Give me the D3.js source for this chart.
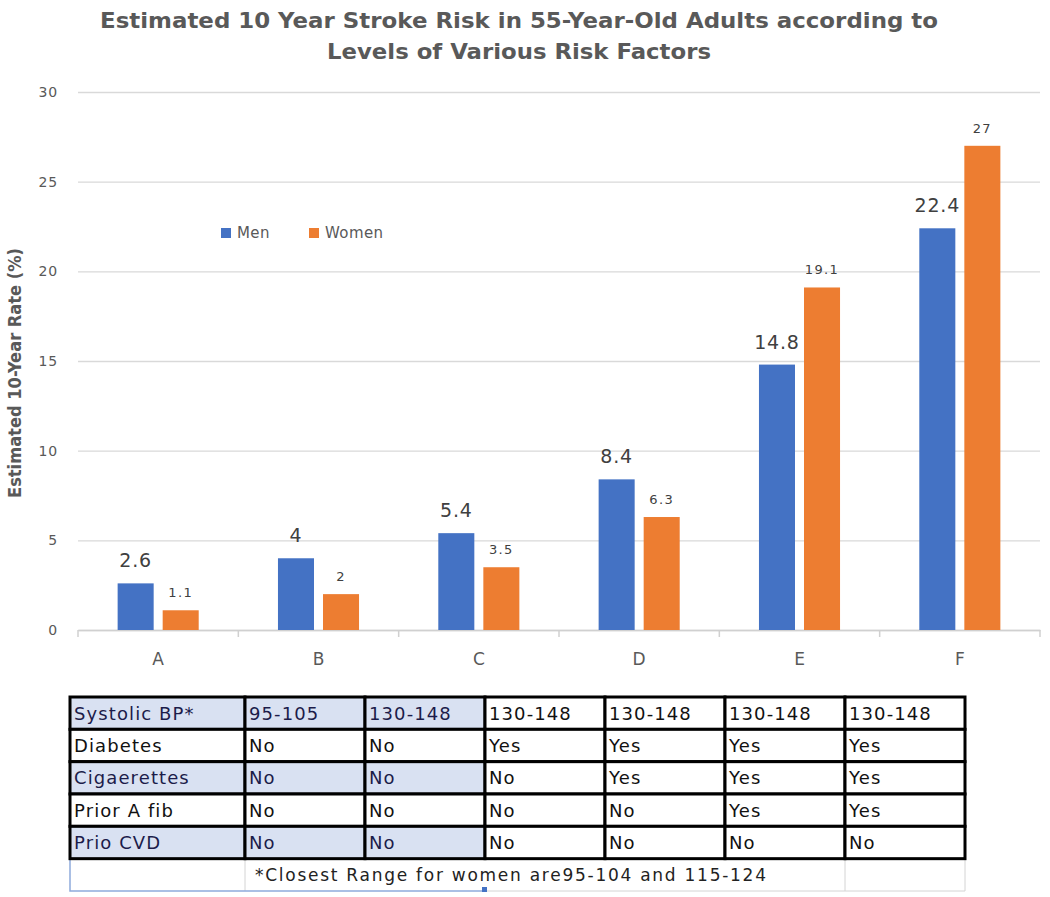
<!DOCTYPE html>
<html>
<head>
<meta charset="utf-8">
<script src="https://cdn.jsdelivr.net/npm/d3@7"></script>
<style>
  html, body { margin: 0; padding: 0; background: #fff; }
  svg { display: block; }
</style>
</head>
<body>
<svg id="chart" width="1050" height="897"></svg>
<script>
// ---------- DATA ----------
const categories = ["A", "B", "C", "D", "E", "F"];
const seriesNames = ["Men", "Women"];
const menValues = [2.6, 4, 5.4, 8.4, 14.8, 22.4];
const womenValues = [1.1, 2, 3.5, 6.3, 19.1, 27];
const yTickValues = [0, 5, 10, 15, 20, 25, 30];

const titleLines = [
  "Estimated 10 Year Stroke Risk in 55-Year-Old Adults according to",
  "Levels of Various Risk Factors"
];
const yAxisTitle = "Estimated 10-Year Rate (%)";

const rowLabels = ["Systolic BP*", "Diabetes", "Cigaerettes", "Prior A fib", "Prio CVD"];
const systolicBP = ["95-105", "130-148", "130-148", "130-148", "130-148", "130-148"];
const diabetes = ["No", "No", "Yes", "Yes", "Yes", "Yes"];
const cigarettes = ["No", "No", "No", "Yes", "Yes", "Yes"];
const priorAfib = ["No", "No", "No", "No", "Yes", "Yes"];
const priorCVD = ["No", "No", "No", "No", "No", "No"];
const footnote = "*Closest Range for women are95-104 and 115-124";

// ---------- LAYOUT / STYLE ----------
const colors = { Men: "#4472C4", Women: "#ED7D31" };
const textGrey = "#595959";
const labelGrey = "#404040";
const plot = { left: 78, right: 1040, top: 92, bottom: 630 };

const svg = d3.select("#chart");

// Title
svg.append("g").selectAll("text")
  .data(titleLines)
  .join("text")
  .attr("x", 519)
  .attr("y", (d, i) => 28 + i * 31)
  .attr("text-anchor", "middle")
  .attr("font-family", "'DejaVu Sans', sans-serif")
  .attr("font-weight", "bold")
  .attr("font-size", 22)
  .attr("fill", textGrey)
  .attr("textLength", (d, i) => i === 0 ? 838 : 384)
  .attr("lengthAdjust", "spacingAndGlyphs")
  .text(d => d);

// Scales
const x0 = d3.scaleBand().domain(categories).range([plot.left, plot.right]).paddingInner(0).paddingOuter(0);
const x1 = d3.scaleBand().domain(seriesNames).range([0, x0.bandwidth()]).paddingInner(0.2).paddingOuter(0.88);
const y = d3.scaleLinear().domain([0, 30]).range([plot.bottom, plot.top]);

// Gridlines + y tick labels
const yAxis = d3.axisLeft(y).tickValues(yTickValues).tickSize(-(plot.right - plot.left)).tickPadding(20);
const gy = svg.append("g").attr("transform", `translate(${plot.left},0)`).call(yAxis);
gy.select(".domain").remove();
gy.selectAll(".tick line").attr("stroke", "#d9d9d9").attr("stroke-width", 1.3);
gy.selectAll(".tick text")
  .attr("fill", textGrey)
  .attr("font-family", "'DejaVu Sans', sans-serif")
  .attr("font-size", 14)
  .attr("letter-spacing", 0.8);

// Y axis title
svg.append("text")
  .attr("transform", "translate(21,373) rotate(-90)")
  .attr("text-anchor", "middle")
  .attr("font-family", "'DejaVu Sans Condensed', 'DejaVu Sans', sans-serif")
  .attr("font-weight", "bold")
  .attr("font-size", 18)
  .attr("fill", textGrey)
  .attr("textLength", 250)
  .attr("lengthAdjust", "spacingAndGlyphs")
  .text(yAxisTitle);

// X axis
const xAxis = d3.axisBottom(x0).tickSize(0).tickPadding(23);
const gx = svg.append("g").attr("transform", `translate(0,${plot.bottom})`).call(xAxis);
gx.select(".domain").attr("stroke", "#d0d0d0").attr("stroke-width", 1.5);
gx.selectAll(".tick text")
  .attr("fill", textGrey)
  .attr("font-family", "'DejaVu Sans', sans-serif")
  .attr("font-size", 17);
// category boundary ticks
const boundaries = categories.map(c => x0(c)).concat([x0(categories[categories.length - 1]) + x0.bandwidth()]);
svg.append("g").selectAll("line")
  .data(boundaries)
  .join("line")
  .attr("x1", d => d).attr("x2", d => d)
  .attr("y1", plot.bottom).attr("y2", plot.bottom + 7)
  .attr("stroke", "#d0d0d0").attr("stroke-width", 1.5);

// Bars
const rows = categories.map((c, i) => ({ cat: c, Men: menValues[i], Women: womenValues[i] }));
const groups = svg.append("g").selectAll("g")
  .data(rows)
  .join("g")
  .attr("transform", d => `translate(${x0(d.cat)},0)`);

groups.selectAll("rect")
  .data(d => seriesNames.map(s => ({ s, v: d[s] })))
  .join("rect")
  .attr("x", d => x1(d.s))
  .attr("width", x1.bandwidth())
  .attr("y", d => y(d.v))
  .attr("height", d => y(0) - y(d.v))
  .attr("fill", d => colors[d.s]);

groups.selectAll("text")
  .data(d => seriesNames.map(s => ({ s, v: d[s] })))
  .join("text")
  .attr("x", d => x1(d.s) + x1.bandwidth() / 2)
  .attr("y", d => y(d.v) - (d.s === "Men" ? 16 : 13))
  .attr("text-anchor", "middle")
  .attr("font-family", "'DejaVu Sans', sans-serif")
  .attr("font-size", d => d.s === "Men" ? 19 : 13)
  .attr("letter-spacing", d => d.s === "Men" ? 0.8 : 1.4)
  .attr("fill", labelGrey)
  .text(d => d.v);

// Legend
const legend = svg.append("g").attr("transform", "translate(221,228)");
const legendItems = legend.selectAll("g")
  .data(seriesNames)
  .join("g")
  .attr("transform", (d, i) => `translate(${i * 88},0)`);
legendItems.append("rect")
  .attr("x", 0).attr("y", 0).attr("width", 10).attr("height", 10)
  .attr("fill", d => colors[d]);
legendItems.append("text")
  .attr("x", 16).attr("y", 10)
  .attr("font-family", "'DejaVu Sans', sans-serif")
  .attr("font-size", 15)
  .attr("letter-spacing", 0.4)
  .attr("fill", textGrey)
  .text(d => d);

// ---------- TABLE ----------
const tableData = [systolicBP, diabetes, cigarettes, priorAfib, priorCVD]
  .map((vals, r) => [rowLabels[r]].concat(vals));
const colEdges = [70, 245, 365, 485, 605, 725, 845, 965];
const rowY = d3.scaleBand().domain(d3.range(tableData.length + 1)).range([697, 891]);
const shade = "#D9E1F2";

const tbl = svg.append("g");
// footnote row light grid
const fr = tableData.length;
tbl.append("g").selectAll("line")
  .data(colEdges.filter((d, i) => [1, 6, 7].includes(i)))
  .join("line")
  .attr("x1", d => d).attr("x2", d => d)
  .attr("y1", rowY(fr)).attr("y2", rowY(fr) + rowY.bandwidth())
  .attr("stroke", "#d4d4d4").attr("stroke-width", 1);
tbl.append("line")
  .attr("x1", colEdges[3]).attr("x2", colEdges[7])
  .attr("y1", rowY(fr) + rowY.bandwidth()).attr("y2", rowY(fr) + rowY.bandwidth())
  .attr("stroke", "#d4d4d4").attr("stroke-width", 1);
// selection outline
tbl.append("path")
  .attr("d", `M${colEdges[0]},${rowY(fr)} V${rowY(fr) + rowY.bandwidth()} H${colEdges[3]}`)
  .attr("fill", "none").attr("stroke", "#8EAADB").attr("stroke-width", 1.5);
tbl.append("rect")
  .attr("x", colEdges[3] - 3).attr("y", rowY(fr) + rowY.bandwidth() - 4)
  .attr("width", 5).attr("height", 5).attr("fill", "#4472C4");
tbl.append("text")
  .attr("x", colEdges[1] + 10)
  .attr("y", rowY(fr) + rowY.bandwidth() / 2)
  .attr("dy", "0.36em")
  .attr("font-family", "'DejaVu Sans', sans-serif")
  .attr("font-size", 17)
  .attr("fill", "#222")
  .attr("textLength", 511)
  .attr("lengthAdjust", "spacing")
  .text(footnote);

// cells
const cells = [];
tableData.forEach((row, r) => row.forEach((v, c) => cells.push({ r, c, v })));
const cellG = tbl.append("g").selectAll("g")
  .data(cells)
  .join("g");
cellG.append("rect")
  .attr("x", d => colEdges[d.c])
  .attr("y", d => rowY(d.r))
  .attr("width", d => colEdges[d.c + 1] - colEdges[d.c])
  .attr("height", rowY.bandwidth())
  .attr("fill", d => (d.r % 2 === 0 && d.c <= 2) ? shade : "#fff")
  .attr("stroke", "#000")
  .attr("stroke-width", 3);
cellG.append("text")
  .attr("x", d => colEdges[d.c] + 4)
  .attr("y", d => rowY(d.r) + rowY.bandwidth() / 2)
  .attr("dy", "0.36em")
  .attr("font-family", "'DejaVu Sans', sans-serif")
  .attr("font-size", 18)
  .attr("letter-spacing", 1.1)
  .attr("fill", d => (d.r % 2 === 0 && d.c <= 2) ? "#1c1c4a" : "#111")
  .text(d => d.v);
</script>
</body>
</html>
